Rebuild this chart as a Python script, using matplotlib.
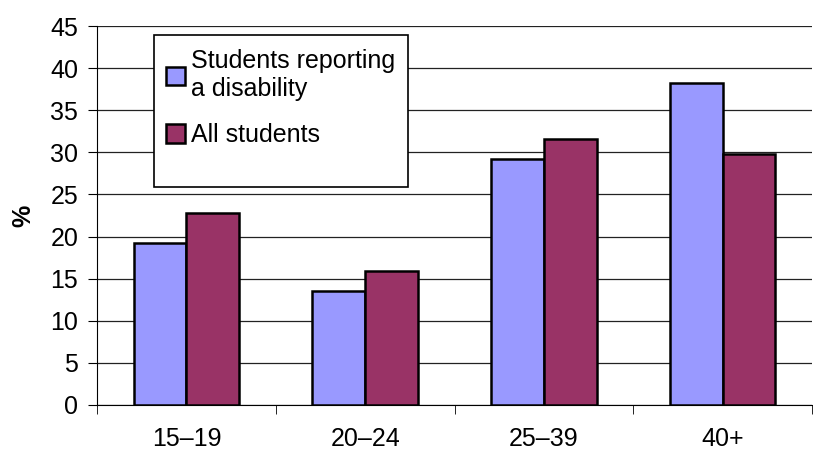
import numpy as np
import matplotlib
matplotlib.use("Agg")
import matplotlib.pyplot as plt
from matplotlib.patches import Rectangle

plt.rcParams['font.family'] = ['Liberation Sans', 'DejaVu Sans']

age_groups = ['15\u201319', '20\u201324', '25\u201339', '40+']
disability = [19.2, 13.5, 29.2, 38.2]
all_students = [22.8, 15.9, 31.6, 29.8]

fs = 18
fig = plt.figure(figsize=(8.13, 4.5), dpi=100)
ax = fig.add_axes([97/813, 45/450, 715/813, 379/450])

x = np.arange(len(age_groups))
w = 0.295
ax.bar(x - w/2, disability, w, color='#9999ff', edgecolor='black', linewidth=1.8,
       label='Students reporting\na disability', zorder=3)
ax.bar(x + w/2, all_students, w, color='#993366', edgecolor='black', linewidth=1.8,
       label='All students', zorder=3)

ax.set_ylim(0, 45)
ax.set_xlim(-0.5, len(age_groups) - 0.5)
ax.set_yticks(range(0, 46, 5))
ax.yaxis.grid(True, color='#222222', linewidth=0.9, zorder=0)
ax.set_axisbelow(True)

ax.set_xticks(x)
ax.set_xticklabels(age_groups, fontsize=fs)
ax.tick_params(axis='x', length=0, pad=16)
ax.set_xticks(np.arange(-0.5, len(age_groups)), minor=True)
ax.tick_params(axis='x', which='minor', length=6.5, direction='out')
ax.tick_params(axis='y', labelsize=fs, length=6.5, direction='out', pad=7)

for s in ['top', 'right']:
    ax.spines[s].set_visible(False)

ax.set_ylabel('%', fontsize=fs, fontweight='bold')
ax.yaxis.set_label_coords(-62/715, 0.5)

# legend box is taller than its entries, so draw the frame separately
box = Rectangle((154/813, 1 - 187/450), 254/813, 152/450, transform=fig.transFigure,
                facecolor='white', edgecolor='black', linewidth=1.2, zorder=4)
ax.add_patch(box)
box.set_clip_on(False)

leg = ax.legend(loc='upper left', bbox_to_anchor=(166/813, 1 - 49/450),
                bbox_transform=fig.transFigure, fontsize=fs, frameon=False,
                handlelength=0.75, handleheight=0.75, handletextpad=0.25,
                labelspacing=0.9, borderpad=0, borderaxespad=0)
leg.set_zorder(5)

fig.savefig('out.png', dpi=100)
